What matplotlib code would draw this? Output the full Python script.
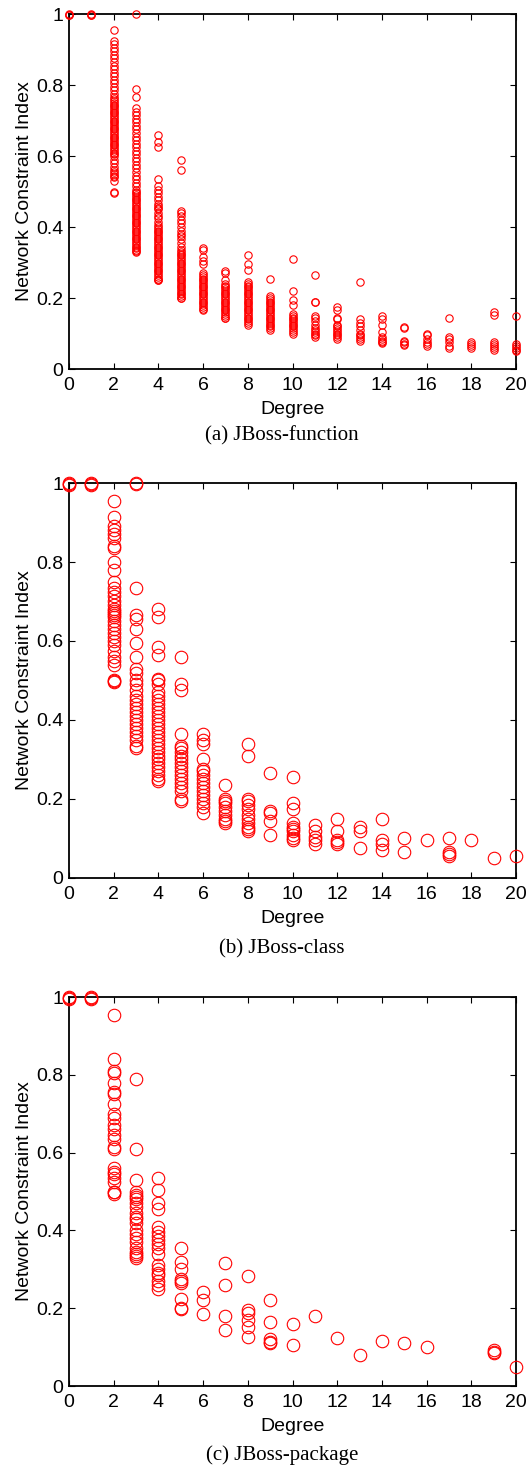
import matplotlib
matplotlib.use("Agg")
import matplotlib.pyplot as plt
from matplotlib.ticker import FormatStrFormatter

# network constraint index per degree (index = degree 0..20)
degrees = list(range(21))

function_nci = [
    [1.0, 0.998, 0.996],
    [1.0, 0.998, 0.996],
    [0.955, 0.925, 0.915, 0.905, 0.895, 0.885, 0.875, 0.865, 0.855, 0.845, 0.835, 0.825,
     0.815, 0.805, 0.795, 0.785, 0.775, 0.765, 0.76, 0.755, 0.75, 0.745, 0.74, 0.735, 0.73,
     0.725, 0.72, 0.715, 0.71, 0.705, 0.70, 0.695, 0.69, 0.685, 0.68, 0.675, 0.67, 0.665,
     0.66, 0.655, 0.65, 0.645, 0.64, 0.635, 0.63, 0.625, 0.62, 0.615, 0.61, 0.605, 0.60,
     0.59, 0.58, 0.57, 0.56, 0.555, 0.55, 0.545, 0.54, 0.53, 0.5, 0.497],
    [1.0, 0.79, 0.765, 0.735, 0.725, 0.715, 0.705, 0.695, 0.685, 0.675, 0.665, 0.655, 0.645,
     0.635, 0.625, 0.615, 0.605, 0.595, 0.585, 0.575, 0.565, 0.555, 0.545, 0.535, 0.525,
     0.515, 0.505, 0.5, 0.495, 0.49, 0.485, 0.48, 0.475, 0.47, 0.465, 0.46, 0.455, 0.45,
     0.445, 0.44, 0.435, 0.43, 0.425, 0.42, 0.415, 0.41, 0.405, 0.40, 0.395, 0.39, 0.385,
     0.38, 0.375, 0.37, 0.365, 0.36, 0.355, 0.35, 0.345, 0.34, 0.335, 0.333, 0.33],
    [0.66, 0.64, 0.625, 0.535, 0.515, 0.505, 0.495, 0.485, 0.475, 0.465, 0.46, 0.455, 0.45,
     0.44, 0.43, 0.425, 0.415, 0.405, 0.40, 0.395, 0.39, 0.385, 0.38, 0.375, 0.37, 0.365,
     0.36, 0.355, 0.35, 0.345, 0.34, 0.335, 0.33, 0.325, 0.32, 0.315, 0.31, 0.305, 0.30,
     0.295, 0.29, 0.285, 0.28, 0.275, 0.27, 0.265, 0.26, 0.255, 0.25, 0.25],
    [0.59, 0.56, 0.445, 0.44, 0.43, 0.42, 0.41, 0.40, 0.39, 0.38, 0.375, 0.365, 0.355, 0.345,
     0.335, 0.33, 0.325, 0.32, 0.315, 0.31, 0.305, 0.30, 0.295, 0.29, 0.285, 0.28, 0.275,
     0.27, 0.265, 0.26, 0.255, 0.25, 0.245, 0.24, 0.235, 0.23, 0.225, 0.22, 0.215, 0.21,
     0.205, 0.20, 0.20],
    [0.34, 0.335, 0.315, 0.305, 0.295, 0.27, 0.265, 0.26, 0.255, 0.25, 0.245, 0.24, 0.235,
     0.23, 0.225, 0.22, 0.215, 0.21, 0.205, 0.20, 0.195, 0.19, 0.185, 0.18, 0.175, 0.17, 0.167],
    [0.275, 0.27, 0.25, 0.24, 0.235, 0.23, 0.225, 0.22, 0.215, 0.21, 0.205, 0.20, 0.195, 0.19,
     0.185, 0.18, 0.175, 0.17, 0.165, 0.16, 0.155, 0.15, 0.145, 0.143],
    [0.32, 0.295, 0.28, 0.245, 0.24, 0.235, 0.23, 0.225, 0.22, 0.215, 0.21, 0.205, 0.20, 0.195,
     0.19, 0.185, 0.18, 0.175, 0.17, 0.165, 0.16, 0.155, 0.15, 0.145, 0.14, 0.135, 0.13, 0.125],
    [0.255, 0.205, 0.2, 0.195, 0.19, 0.185, 0.18, 0.175, 0.17, 0.165, 0.16, 0.155, 0.15, 0.145,
     0.14, 0.135, 0.13, 0.125, 0.12, 0.115, 0.11],
    [0.31, 0.22, 0.195, 0.18, 0.155, 0.15, 0.145, 0.14, 0.135, 0.13, 0.125, 0.12, 0.115, 0.11,
     0.105, 0.1],
    [0.265, 0.19, 0.188, 0.15, 0.145, 0.135, 0.125, 0.115, 0.11, 0.105, 0.1, 0.095, 0.09],
    [0.175, 0.165, 0.145, 0.14, 0.125, 0.12, 0.115, 0.11, 0.105, 0.1, 0.095, 0.09, 0.085],
    [0.245, 0.14, 0.13, 0.12, 0.11, 0.1, 0.095, 0.09, 0.085, 0.08],
    [0.15, 0.14, 0.125, 0.105, 0.09, 0.085, 0.08, 0.075, 0.073],
    [0.118, 0.115, 0.08, 0.075, 0.07, 0.068],
    [0.1, 0.095, 0.085, 0.075, 0.07, 0.065],
    [0.145, 0.09, 0.085, 0.075, 0.065, 0.06],
    [0.075, 0.07, 0.065, 0.06],
    [0.16, 0.152, 0.075, 0.07, 0.065, 0.06, 0.055],
    [0.15, 0.07, 0.065, 0.06, 0.055, 0.05],
]

class_nci = [
    [1.0, 0.998, 0.996],
    [1.0, 0.998, 0.996],
    [0.955, 0.915, 0.89, 0.88, 0.87, 0.86, 0.84, 0.835, 0.8, 0.78, 0.75, 0.735, 0.725, 0.715,
     0.7, 0.69, 0.68, 0.675, 0.67, 0.665, 0.66, 0.65, 0.64, 0.63, 0.62, 0.61, 0.6, 0.59,
     0.575, 0.56, 0.55, 0.54, 0.5, 0.498, 0.495],
    [1.0, 0.998, 0.735, 0.665, 0.655, 0.63, 0.595, 0.56, 0.53, 0.52, 0.5, 0.49, 0.475, 0.46,
     0.45, 0.44, 0.43, 0.42, 0.41, 0.4, 0.39, 0.38, 0.37, 0.36, 0.35, 0.335, 0.33],
    [0.68, 0.66, 0.585, 0.565, 0.505, 0.5, 0.49, 0.47, 0.46, 0.45, 0.44, 0.43, 0.42, 0.41,
     0.4, 0.39, 0.38, 0.37, 0.36, 0.35, 0.34, 0.33, 0.32, 0.31, 0.3, 0.29, 0.28, 0.27, 0.26,
     0.25, 0.245],
    [0.56, 0.49, 0.475, 0.365, 0.335, 0.33, 0.32, 0.31, 0.3, 0.29, 0.28, 0.27, 0.26, 0.25,
     0.24, 0.23, 0.22, 0.2, 0.195],
    [0.365, 0.35, 0.34, 0.3, 0.275, 0.27, 0.26, 0.25, 0.24, 0.23, 0.22, 0.21, 0.2, 0.19,
     0.18, 0.165],
    [0.235, 0.2, 0.195, 0.19, 0.18, 0.17, 0.16, 0.15, 0.145, 0.14],
    [0.34, 0.31, 0.2, 0.195, 0.185, 0.175, 0.16, 0.15, 0.14, 0.13, 0.125, 0.12],
    [0.265, 0.17, 0.165, 0.145, 0.11],
    [0.255, 0.19, 0.175, 0.14, 0.13, 0.125, 0.12, 0.11, 0.1, 0.095],
    [0.135, 0.12, 0.105, 0.095, 0.085],
    [0.15, 0.12, 0.095, 0.09, 0.085],
    [0.13, 0.12, 0.075],
    [0.15, 0.095, 0.085, 0.07],
    [0.1, 0.065],
    [0.095],
    [0.1, 0.065, 0.06, 0.055],
    [0.095],
    [0.05],
    [0.055],
]

package_nci = [
    [1.0, 0.998, 0.996],
    [1.0, 0.998, 0.996],
    [0.955, 0.84, 0.81, 0.805, 0.78, 0.755, 0.75, 0.725, 0.70, 0.69, 0.67, 0.66, 0.645, 0.635,
     0.615, 0.61, 0.56, 0.55, 0.545, 0.535, 0.525, 0.5, 0.498, 0.495],
    [0.79, 0.61, 0.53, 0.5, 0.49, 0.485, 0.48, 0.47, 0.46, 0.445, 0.435, 0.43, 0.42, 0.4,
     0.39, 0.38, 0.37, 0.355, 0.345, 0.34, 0.335, 0.33],
    [0.535, 0.505, 0.47, 0.455, 0.41, 0.395, 0.385, 0.375, 0.365, 0.355, 0.34, 0.31, 0.30,
     0.29, 0.285, 0.27, 0.26, 0.25],
    [0.355, 0.32, 0.30, 0.275, 0.27, 0.265, 0.225, 0.2, 0.198],
    [0.242, 0.22, 0.186],
    [0.317, 0.259, 0.179, 0.145],
    [0.283, 0.195, 0.188, 0.169, 0.152, 0.126],
    [0.22, 0.165, 0.122, 0.112, 0.11],
    [0.159, 0.105],
    [0.179],
    [0.123],
    [0.079],
    [0.115],
    [0.11],
    [0.1],
    [],
    [],
    [0.093, 0.088, 0.085],
    [0.049],
]

captions = ["(a) JBoss-function", "(b) JBoss-class", "(c) JBoss-package"]
panels = [function_nci, class_nci, package_nci]

# axes boxes in figure fractions [left, bottom, width, height]
boxes = [
    [0.1307, 0.7481, 0.8466, 0.2423],
    [0.1307, 0.4007, 0.8466, 0.2696],
    [0.1307, 0.0539, 0.8466, 0.2655],
]
caption_y = [1 - 436 / 1465, 1 - 949 / 1465, 1 - 1455 / 1465]
marker_sizes = [5.3, 9.0, 9.0]

plt.rcParams["font.family"] = ["Liberation Sans", "DejaVu Sans"]

fig = plt.figure(figsize=(5.28, 14.65), dpi=100)

for data, box, cap, cy, ms in zip(panels, boxes, captions, caption_y, marker_sizes):
    ax = fig.add_axes(box)
    for d, vals in zip(degrees, data):
        if not vals:
            continue
        ax.plot([d] * len(vals), vals, "o", mfc="none", mec="#ff0000",
                ms=ms, mew=0.8, clip_on=False, zorder=3)
    ax.set_xlim(0, 20)
    ax.set_ylim(0, 1)
    ax.set_xticks(range(0, 21, 2))
    ax.set_yticks([0, 0.2, 0.4, 0.6, 0.8, 1.0])
    ax.yaxis.set_major_formatter(FormatStrFormatter("%g"))
    ax.tick_params(direction="in", top=True, right=True, length=4, width=0.8,
                   labelsize=14)
    ax.tick_params(axis="x", pad=5.5)
    ax.tick_params(axis="y", pad=4)
    for s in ax.spines.values():
        s.set_linewidth(1.3)
    ax.set_xlabel("Degree", fontsize=14, labelpad=5)
    ax.set_ylabel("Network Constraint Index", fontsize=14, labelpad=2)
    fig.text(282 / 528, cy, cap, ha="center", va="center",
             family="Liberation Serif", fontsize=15)

fig.savefig("out.png", dpi=100)
